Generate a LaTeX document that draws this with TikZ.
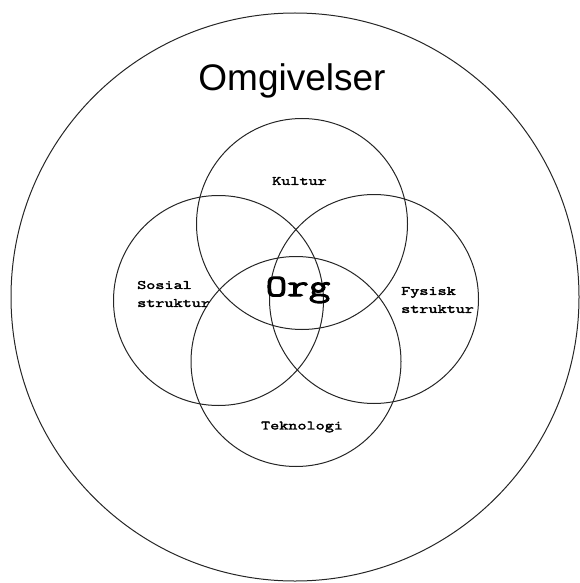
\documentclass[tikz,border=0pt]{standalone}
\usepackage{fontspec}
\setmainfont{Liberation Sans}
% wide, heavy typewriter face for the domain labels
\newfontfamily\labelfont{Latin Modern Mono}[FakeStretch=1.38,FakeBold=2.6]
\newfontfamily\orgfont{Latin Modern Mono}[FakeStretch=1.35,FakeBold=3.2]
\begin{document}
\begin{tikzpicture}[x=1pt,y=-1pt,
  ring/.style={draw=black!85,line width=1pt},
  area/.style={font=\labelfont\fontsize{12.8}{18}\selectfont,inner sep=0pt},
  sidearea/.style={area,align=left,anchor=west}]
  \useasboundingbox (0,0) rectangle (580,583);
  % surrounding environment
  \draw[ring] (295,297) circle[radius=284];
  \node[font=\fontsize{37}{40}\selectfont,inner sep=0pt] (omg) at (292,81) {Omgivelser};
  % four overlapping domains
  \draw[ring] (302,224) circle[radius=105.5];
  \draw[ring] (218.5,300.5) circle[radius=105];
  \draw[ring] (374,299) circle[radius=104.5];
  \draw[ring] (296,361.5) circle[radius=105];
  % domain labels
  \node[area] (kultur) at (299.5,181) {Kultur};
  \node[sidearea] (sosial) at (137,294) {Sosial\\struktur};
  \node[sidearea] (fysisk) at (401,300) {Fysisk\\struktur};
  \node[area] (tekno) at (302,427) {Teknologi};
  \node[font=\orgfont\fontsize{31}{36}\selectfont,inner sep=0pt] (org) at (298,290) {Org};
\end{tikzpicture}
\end{document}
